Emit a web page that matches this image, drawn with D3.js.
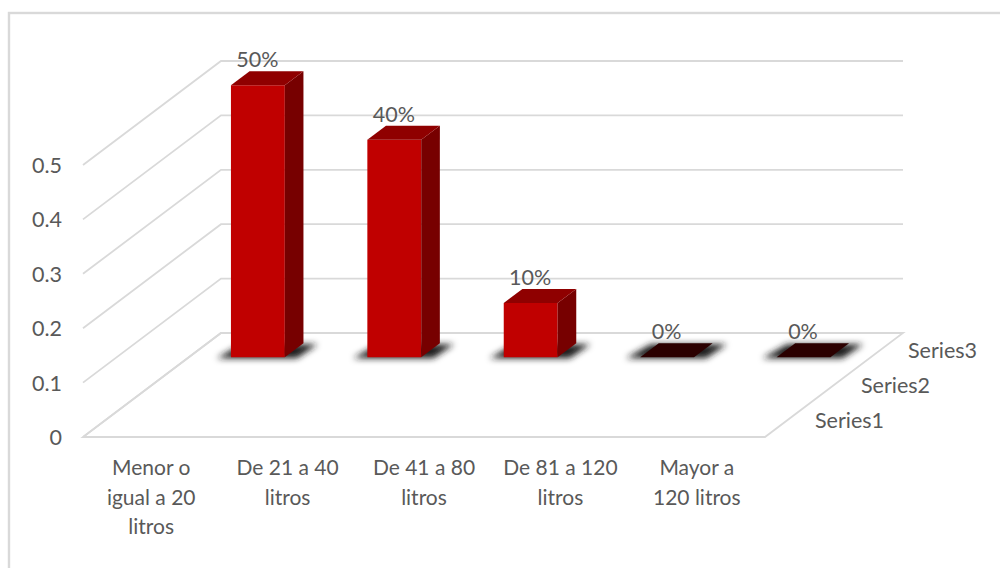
<!DOCTYPE html>
<html><head><meta charset="utf-8">
<style>html,body{margin:0;padding:0;background:#fff;overflow:hidden}svg{display:block}text{font-family:Lato,"Open Sans",sans-serif;fill:#595959}</style>
<script src="https://cdn.jsdelivr.net/npm/d3@7"></script></head><body>
<script>
const categories = [["Menor o","igual a 20","litros"],["De 21 a 40","litros"],["De 41 a 80","litros"],["De 81 a 120","litros"],["Mayor a","120 litros"]];
const seriesNames = ["Series1","Series2","Series3"];
const series3Values = [0.5,0.4,0.1,0,0];
const series3Labels = ["50%","40%","10%","0%","0%"];
const yTicks = [0,0.1,0.2,0.3,0.4,0.5];

const W=1000,H=568;
const svg=d3.select("body").append("svg").attr("width",W).attr("height",H);
const defs=svg.append("defs");
defs.append("filter").attr("id","shadow").attr("x","-30%").attr("y","-100%").attr("width","160%").attr("height","300%")
  .append("feGaussianBlur").attr("stdDeviation",3);

// frame
svg.append("rect").attr("x",9).attr("y",13).attr("width",W+20).attr("height",H+20)
  .attr("fill","#fff").attr("stroke","#d9d9d9").attr("stroke-width",2.4);

// oblique projection: x category, y value, z depth 0 (front) .. 1 (back)
const x=d3.scaleBand().domain(d3.range(categories.length)).range([83,765]);
const y=d3.scaleLinear().domain([0,0.5]).range([437,165]);
const zx=d3.scaleLinear().domain([0,1]).range([0,138]);
const zy=d3.scaleLinear().domain([0,1]).range([0,-104]);
const zBand=d3.scaleBand().domain(seriesNames).range([0,1]);
const P=(px,v,z)=>[px+zx(z),y(v)+zy(z)];
const path=pts=>"M"+pts.map(p=>p.join(",")).join("L")+"Z";
const xL=x.range()[0],xR=x.range()[1];

// walls
const grid=svg.append("g").attr("fill","none").attr("stroke","#d9d9d9").attr("stroke-width",1.8);
yTicks.forEach(t=>{
  const a=P(xL,t,0),b=P(xL,t,1),c=P(xR,t,1);
  grid.append("polyline").attr("points",[a,b,c].map(p=>p.join(",")).join(" "));
});
grid.append("path").attr("d",path([P(xL,0,0),P(xR,0,0),P(xR,0,1),P(xL,0,1)]));

// y axis labels
svg.append("g").selectAll("text").data(yTicks).join("text")
  .attr("x",62).attr("y",d=>y(d)+8).attr("text-anchor","end")
  .attr("font-size",21.5).text(d=>d===0?"0":d3.format(".1f")(d));

// series axis labels
const sLabelX={Series1:815,Series2:861,Series3:908};
svg.append("g").selectAll("text").data(seriesNames).join("text")
  .attr("x",d=>sLabelX[d]).attr("y",d=>y(0)+zy(zBand(d)+zBand.bandwidth()/2)+8)
  .attr("font-size",21.5).text(d=>d);

// category labels
const cat=svg.append("g");
categories.forEach((lines,i)=>{
  const t=cat.append("text").attr("text-anchor","middle").attr("font-size",21);
  lines.forEach((l,j)=>t.append("tspan").attr("x",x(i)+x.bandwidth()/2).attr("y",475+j*29.5).text(l));
});

// bars (series 3 row)
const barFrac=0.395;
const zc=zBand("Series3")+zBand.bandwidth()/2;
const zd=0.0675;
const bars=svg.append("g");
series3Values.forEach((v,i)=>{
  const bw=x.bandwidth()*barFrac/2;
  const cx=x(i)+x.bandwidth()/2+1;
  const l=cx-bw,r=cx+bw;
  const z0=zc-zd,z1=zc+zd;
  // shadow
  bars.append("path").attr("filter","url(#shadow)").attr("fill","#1f1f1f")
    .attr("d",path([
      [P(l,0,z0)[0]-14,P(l,0,z0)[1]+1],
      [P(r,0,z0)[0]+12,P(r,0,z0)[1]+1],
      [P(r,0,z1)[0]+14,P(r,0,z1)[1]+1],
      [P(l,0,z1)[0]-8,P(l,0,z1)[1]+1]
    ]));
  if(v>0){
    bars.append("path").attr("fill","#c00000").attr("d",path([P(l,0,z0),P(r,0,z0),P(r,v,z0),P(l,v,z0)]));
    bars.append("path").attr("fill","#770000").attr("d",path([P(r,0,z0),P(r,0,z1),P(r,v,z1),P(r,v,z0)]));
    bars.append("path").attr("fill","#8f0000").attr("d",path([P(l,v,z0),P(r,v,z0),P(r,v,z1),P(l,v,z1)]));
  } else {
    bars.append("path").attr("fill","#2b0000").attr("d",path([P(l,0,z0),P(r,0,z0),P(r,0,z1),P(l,0,z1)]));
  }
});

// data labels
svg.append("g").selectAll("text").data(series3Values).join("text")
  .attr("x",(d,i)=>x(i)+x.bandwidth()/2+zx(zc-zd)+0.5)
  .attr("y",d=>y(d)+zy(zc+zd)-4).attr("text-anchor","middle")
  .attr("font-size",21.5).text((d,i)=>series3Labels[i]);
</script></body></html>
